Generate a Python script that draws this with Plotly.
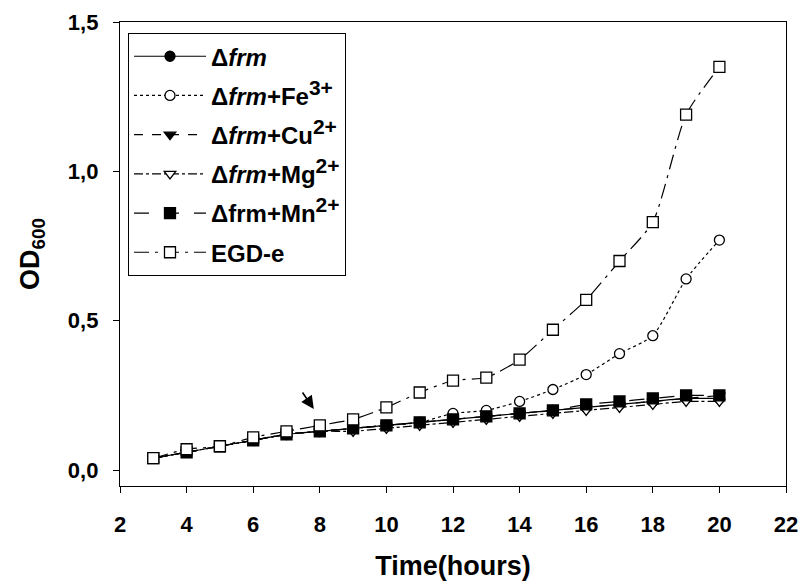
import plotly.graph_objects as go

hours = [3, 4, 5, 6, 7, 8, 9, 10, 11, 12, 13, 14, 15, 16, 17, 18, 19, 20]

frm = [0.04, 0.06, 0.08, 0.10, 0.12, 0.13, 0.14, 0.15, 0.16, 0.17, 0.18, 0.19, 0.20, 0.21, 0.22, 0.23, 0.24, 0.24]
frm_fe = [0.04, 0.06, 0.08, 0.10, 0.12, 0.13, 0.14, 0.15, 0.16, 0.19, 0.20, 0.23, 0.27, 0.32, 0.39, 0.45, 0.64, 0.77]
frm_cu = [0.04, 0.06, 0.08, 0.10, 0.12, 0.13, 0.14, 0.15, 0.16, 0.17, 0.18, 0.19, 0.20, 0.21, 0.22, 0.23, 0.24, 0.25]
frm_mg = [0.04, 0.06, 0.08, 0.10, 0.12, 0.13, 0.13, 0.14, 0.15, 0.16, 0.17, 0.18, 0.19, 0.20, 0.21, 0.22, 0.23, 0.23]
frm_mn = [0.04, 0.06, 0.08, 0.10, 0.12, 0.13, 0.14, 0.15, 0.16, 0.17, 0.18, 0.19, 0.20, 0.22, 0.23, 0.24, 0.25, 0.25]
egde = [0.04, 0.07, 0.08, 0.11, 0.13, 0.15, 0.17, 0.21, 0.26, 0.30, 0.31, 0.37, 0.47, 0.57, 0.70, 0.83, 1.19, 1.35]


def sup(t):
    return "<sup><span style='font-size:21px'>" + t + "</span></sup>"


names = [
    "<b>Δ<i>frm</i></b>",
    "<b>Δ<i>frm</i>+Fe" + sup("3+") + "</b>",
    "<b>Δ<i>frm</i>+Cu" + sup("2+") + "</b>",
    "<b>Δ<i>frm</i>+Mg" + sup("2+") + "</b>",
    "<b>Δfrm+Mn" + sup("2+") + "</b>",
    "<b>EGD-e</b>",
]
series = [frm, frm_fe, frm_cu, frm_mg, frm_mn, egde]
symbols = ["circle", "circle", "triangle-down", "triangle-down", "square", "square"]
fills = ["black", "white", "black", "white", "black", "white"]
dashes = ["solid", "dot", "dash", "dashdot", "longdash", "longdashdot"]

fig = go.Figure()
for i, (nm, ys, sym, fc, dsh) in enumerate(zip(names, series, symbols, fills, dashes)):
    fig.add_trace(go.Scatter(
        x=hours, y=ys, name=nm, mode="lines+markers",
        line=dict(color="black", width=1.2, dash=dsh, shape="spline", smoothing=0.6),
        marker=dict(symbol=sym, size=11 if sym == "square" else 10, color=fc,
                    line=dict(color="black", width=1.3)),
        legendgroup=str(i),
    ))

fig.add_annotation(
    x=7.82, y=0.205, ax=7.45, ay=0.265, xref="x", yref="y", axref="x", ayref="y",
    showarrow=True, arrowhead=2, arrowsize=1.6, arrowwidth=1.6, arrowcolor="black", text="",
)

font_family = "Liberation Sans, Arial, sans-serif"
fig.update_layout(
    width=800, height=585,
    margin=dict(l=120, r=14, t=22, b=99),
    paper_bgcolor="white", plot_bgcolor="white",
    separators=",.",
    font=dict(family=font_family, color="black"),
    showlegend=True,
    legend=dict(
        x=0.012, y=0.976, xanchor="left", yanchor="top",
        bordercolor="black", borderwidth=1, bgcolor="white",
        font=dict(size=24, family=font_family, color="black"),
        itemwidth=72, tracegroupgap=5,
    ),
    xaxis=dict(
        range=[2, 22], tickvals=list(range(2, 23, 2)), automargin=False,
        showgrid=False, zeroline=False, showline=True, linecolor="black", linewidth=1.3,
        mirror=True, ticks="outside", ticklen=6, tickcolor="black", tickwidth=1.3,
        tickfont=dict(size=22, family=font_family, weight="bold"), ticklabelstandoff=12,
        title=dict(text="<b>Time(hours)</b>", font=dict(size=27, family=font_family), standoff=20),
    ),
    yaxis=dict(
        range=[-0.053, 1.5], tickvals=[0, 0.5, 1.0, 1.5], tickformat=".1f", automargin=False,
        showgrid=False, zeroline=False, showline=True, linecolor="black", linewidth=1.3,
        mirror=True, ticks="outside", ticklen=6, tickcolor="black", tickwidth=1.3,
        tickfont=dict(size=22, family=font_family, weight="bold"), ticklabelstandoff=10,
        title=dict(text="<b>OD<sub>600</sub></b>", font=dict(size=27, family=font_family), standoff=20),
    ),
)

fig.write_html("out.html")
